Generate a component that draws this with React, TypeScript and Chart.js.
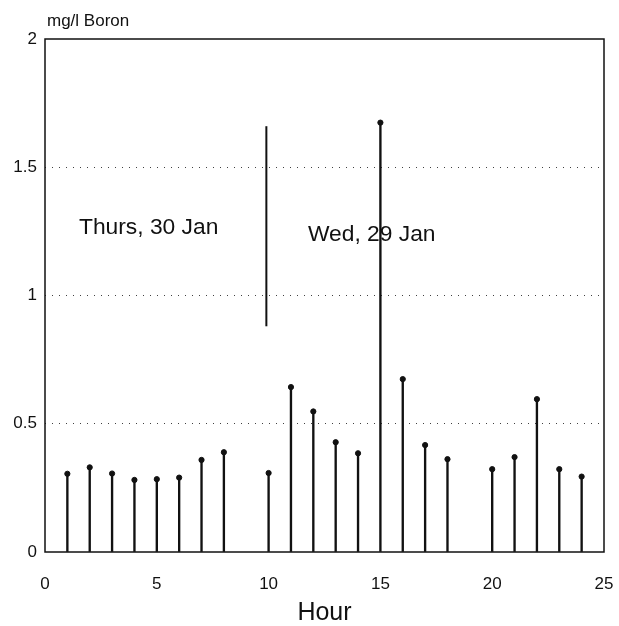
import React, { useEffect, useRef } from "react";
import { Chart, registerables } from "chart.js";

Chart.register(...registerables);

const hours = [1, 2, 3, 4, 5, 6, 7, 8, 10, 11, 12, 13, 14, 15, 16, 17, 18, 20, 21, 22, 23, 24];
const boron = [0.305, 0.33, 0.306, 0.281, 0.284, 0.29, 0.359, 0.389, 0.308, 0.643, 0.548, 0.428, 0.385, 1.674, 0.674, 0.417, 0.362, 0.323, 0.37, 0.596, 0.323, 0.294];
const separatorX = [9.9, 9.9];
const separatorY = [0.88, 1.66];
const xTicks = [0, 5, 10, 15, 20, 25];
const yTicks = [0, 0.5, 1, 1.5, 2];
const yTickLabels = ["0", "0.5", "1", "1.5", "2"];
const dayLabels = ["Thurs, 30 Jan", "Wed, 29 Jan"];
const dayLabelX = [1.52, 11.76];
const dayLabelY = [1.238, 1.212];
const yAxisTitle = "mg/l Boron";
const xAxisTitle = "Hour";

const FONT = '"Liberation Sans", Arial, Helvetica, sans-serif';

export default function App() {
  const ref = useRef<HTMLCanvasElement | null>(null);

  useEffect(() => {
    if (!ref.current) return;
    const textPlugin = {
      id: "boxAndText",
      afterDraw(chart: any) {
        const { ctx, chartArea, scales } = chart;
        ctx.save();
        ctx.strokeStyle = "#111";
        ctx.lineWidth = 1.5;
        ctx.strokeRect(chartArea.left, chartArea.top, chartArea.right - chartArea.left, chartArea.bottom - chartArea.top);
        ctx.fillStyle = "#111";
        ctx.textBaseline = "alphabetic";
        ctx.textAlign = "left";
        ctx.font = `22.8px ${FONT}`;
        dayLabels.forEach((t, i) => {
          ctx.fillText(t, scales.x.getPixelForValue(dayLabelX[i]), scales.y.getPixelForValue(dayLabelY[i]));
        });
        ctx.font = `17px ${FONT}`;
        ctx.fillText(yAxisTitle, chartArea.left + 2, 26);
        ctx.font = `25px ${FONT}`;
        ctx.textAlign = "center";
        ctx.fillText(xAxisTitle, (chartArea.left + chartArea.right) / 2, 620);
        ctx.restore();
      },
    };

    const chart = new Chart(ref.current, {
      type: "bar",
      data: {
        datasets: [
          {
            type: "bar",
            data: hours.map((h, i) => ({ x: h, y: boron[i] })),
            backgroundColor: "#111",
            barThickness: 1.7,
            order: 2,
          } as any,
          {
            type: "scatter",
            data: hours.map((h, i) => ({ x: h, y: boron[i] })),
            backgroundColor: "#111",
            borderColor: "#111",
            pointRadius: 2.6,
            order: 1,
          } as any,
          {
            type: "line",
            data: separatorX.map((x, i) => ({ x, y: separatorY[i] })),
            borderColor: "#111",
            borderWidth: 2,
            pointRadius: 0,
            order: 0,
          } as any,
        ],
      },
      options: {
        animation: false,
        responsive: false,
        layout: { padding: { top: 39, right: 15, left: 0, bottom: 0 } },
        plugins: { legend: { display: false }, tooltip: { enabled: false }, title: { display: false } },
        scales: {
          x: {
            type: "linear",
            min: 0,
            max: 25,
            offset: false,
            afterFit: (s: any) => { s.height = 74; s.paddingLeft = 0; s.paddingRight = 0; },
            afterBuildTicks: (s: any) => { s.ticks = xTicks.map((v) => ({ value: v })); },
            grid: { display: false, offset: false },
            border: { display: false },
            ticks: { color: "#111", font: { family: FONT, size: 17 }, padding: 14, maxRotation: 0 },
          },
          y: {
            type: "linear",
            min: 0,
            max: 2,
            afterFit: (s: any) => { s.width = 45; s.paddingTop = 0; s.paddingBottom = 0; },
            afterBuildTicks: (s: any) => { s.ticks = yTicks.map((v) => ({ value: v })); },
            grid: {
              drawTicks: false,
              color: (c: any) => (c.tick && (c.tick.value === 0 || c.tick.value === 2) ? "rgba(0,0,0,0)" : "rgba(0,0,0,0.75)"),
              lineWidth: 1,
            },
            border: { display: false, dash: [1, 6] },
            ticks: {
              color: "#111",
              font: { family: FONT, size: 17 },
              padding: 8,
              callback: (v: any) => {
                const i = yTicks.indexOf(Number(v));
                return i >= 0 ? yTickLabels[i] : "";
              },
            },
          },
        },
      } as any,
      plugins: [textPlugin],
    });
    return () => chart.destroy();
  }, []);

  return (
    <canvas
      ref={ref}
      width={619}
      height={626}
      style={{ position: "absolute", left: 0, top: 0, width: 619, height: 626, background: "#fff" }}
    />
  );
}
